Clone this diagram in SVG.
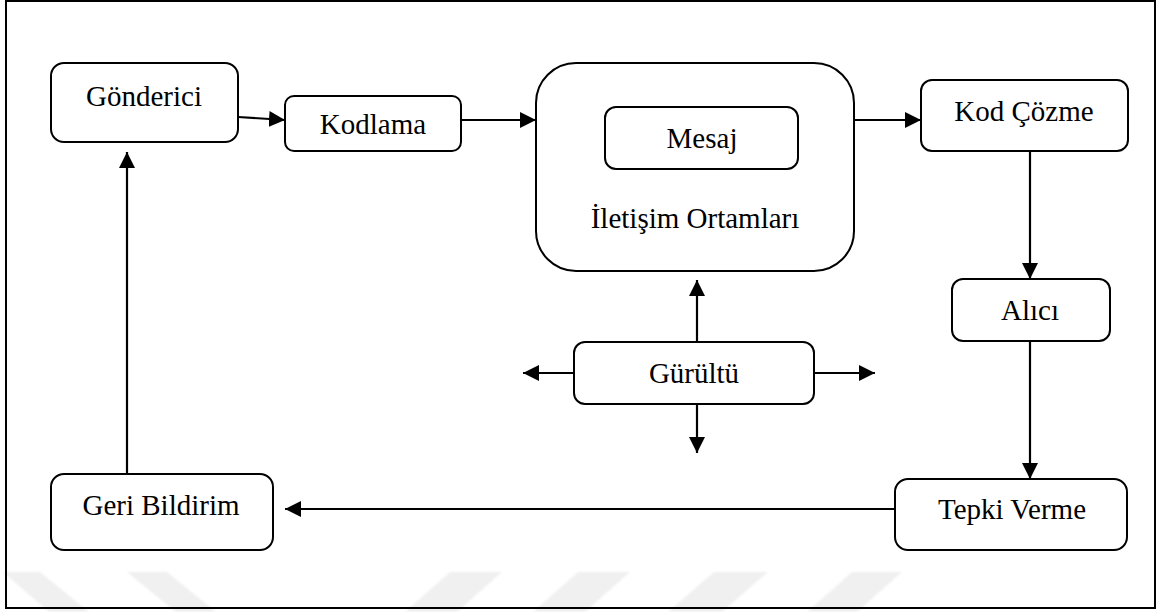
<svg xmlns="http://www.w3.org/2000/svg" width="1164" height="612" viewBox="0 0 1164 612">
  <style>
    .box { fill: #ffffff; stroke: #000000; stroke-width: 2; }
    .lbl { font-family: "Liberation Serif", "Times New Roman", serif; font-size: 29px; fill: #000000; text-anchor: middle; }
    .edge { fill: none; stroke: #000000; stroke-width: 2.2; marker-end: url(#arrow); }
    .mark { fill: #f0f0f0; }
  </style>
  <defs>
    <marker id="arrow" markerUnits="userSpaceOnUse" markerWidth="16" markerHeight="16" refX="16" refY="8" orient="auto">
      <path d="M0,0 L16,8 L0,16 z" fill="#000000"/>
    </marker>
    <filter id="soft" x="-10%" y="-20%" width="120%" height="140%">
      <feGaussianBlur stdDeviation="1"/>
    </filter>
  </defs>

  <rect width="1164" height="612" fill="#ffffff"/>

  <!-- background stripes -->
  <g id="stripes" filter="url(#soft)">
    <polygon class="mark" points="3,572 40,572 89,612 49,612"/>
    <polygon class="mark" points="127,572 167,572 216,612 176,612"/>
    <polygon class="mark" points="450,572 502,572 457,612 405,612"/>
    <polygon class="mark" points="578,572 630,572 585,612 533,612"/>
    <polygon class="mark" points="714,572 768,572 722,612 668,612"/>
    <polygon class="mark" points="852,572 902,572 857,612 807,612"/>
  </g>

  <!-- frame -->
  <rect x="6" y="1" width="1149" height="607" fill="none" stroke="#000000" stroke-width="2"/>

  <!-- connectors -->
  <g id="connectors">
    <line class="edge" x1="238" y1="117" x2="285" y2="120"/>
    <line class="edge" x1="461" y1="120" x2="536" y2="120"/>
    <line class="edge" x1="854" y1="120" x2="921" y2="120"/>
    <line class="edge" x1="1030" y1="151" x2="1030" y2="279"/>
    <line class="edge" x1="1030" y1="341" x2="1030" y2="479"/>
    <line class="edge" x1="895" y1="509" x2="285" y2="509"/>
    <line class="edge" x1="127" y1="474" x2="127" y2="152"/>
    <line class="edge" x1="697" y1="342" x2="697" y2="280"/>
    <line class="edge" x1="697" y1="404" x2="697" y2="453"/>
    <line class="edge" x1="574" y1="373" x2="523" y2="373"/>
    <line class="edge" x1="814" y1="373" x2="875" y2="373"/>
  </g>

  <g id="gonderici">
    <rect class="box" x="51" y="63" width="187" height="79" rx="13"/>
    <text class="lbl" x="144" y="106">Gönderici</text>
  </g>

  <g id="kodlama">
    <rect class="box" x="285" y="96" width="176" height="55" rx="9"/>
    <text class="lbl" x="373" y="134">Kodlama</text>
  </g>

  <g id="iletisim-ortamlari">
    <rect class="box" x="536" y="63" width="318" height="208" rx="40"/>
    <text class="lbl" x="695" y="228">İletişim Ortamları</text>
  </g>

  <g id="mesaj">
    <rect class="box" x="605" y="107" width="193" height="62" rx="11"/>
    <text class="lbl" x="702" y="148">Mesaj</text>
  </g>

  <g id="kod-cozme">
    <rect class="box" x="921" y="80" width="207" height="71" rx="11"/>
    <text class="lbl" x="1024" y="121">Kod Çözme</text>
  </g>

  <g id="alici">
    <rect class="box" x="952" y="279" width="158" height="62" rx="11"/>
    <text class="lbl" x="1030" y="320">Alıcı</text>
  </g>

  <g id="gurultu">
    <rect class="box" x="574" y="342" width="240" height="62" rx="11"/>
    <text class="lbl" x="694" y="383">Gürültü</text>
  </g>

  <g id="tepki-verme">
    <rect class="box" x="895" y="479" width="232" height="71" rx="13"/>
    <text class="lbl" x="1012" y="519">Tepki Verme</text>
  </g>

  <g id="geri-bildirim">
    <rect class="box" x="51" y="474" width="222" height="76" rx="13"/>
    <text class="lbl" x="161" y="515">Geri Bildirim</text>
  </g>
</svg>
